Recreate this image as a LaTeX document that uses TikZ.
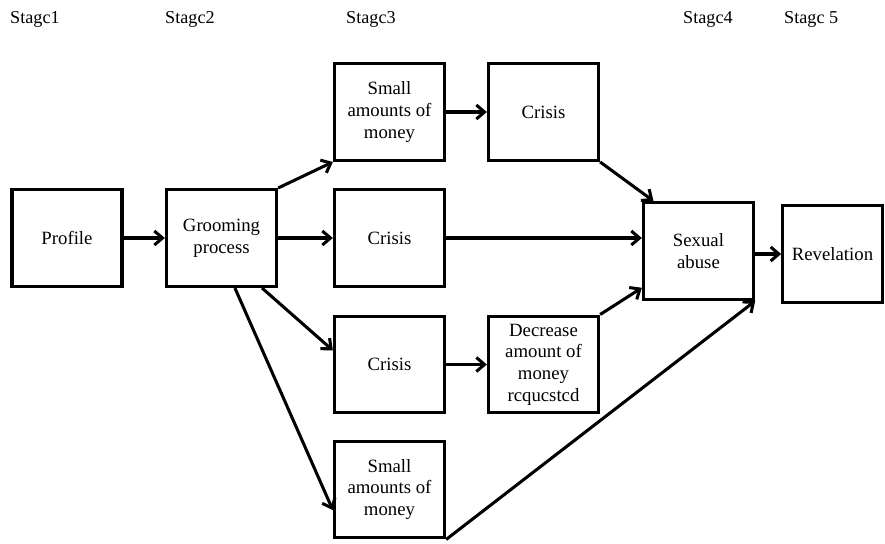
\documentclass[tikz,border=0pt]{standalone}
\usepackage{fontspec}
\setmainfont{Liberation Serif}
\usepackage{tikz}
\usetikzlibrary{arrows.meta, positioning, calc}

\begin{document}
\begin{tikzpicture}[x=0.03cm, y=-0.03cm,
    box/.style={draw, line width=2.8pt, minimum width=3.3cm, minimum height=2.9cm, align=center, inner sep=2pt, font=\fontsize{16}{18.5}\selectfont},
    stagelbl/.style={anchor=west, inner sep=0pt, font=\fontsize{15.5}{18}\selectfont},
    arr/.style={line width=2.6pt, -{Straight Barb[length=7pt, width=12pt, line width=2.6pt]}}]
  \useasboundingbox (0,0) rectangle (885,544);

  % Stage labels
  \node[stagelbl] (st1) at (10,19) {Stagc1};
  \node[stagelbl] (st2) at (165,19) {Stagc2};
  \node[stagelbl] (st3) at (346,19) {Stagc3};
  \node[stagelbl] (st4) at (683,19) {Stagc4};
  \node[stagelbl] (st5) at (784,19) {Stagc 5};

  % Boxes
  \node[box] (profile) at (67,238) {Profile};
  \node[box] (groom) at (221.5,238) {Grooming\\process};
  \node[box] (small1) at (389.5,112) {Small\\amounts of\\money};
  \node[box] (crisis1) at (543.5,112) {Crisis};
  \node[box] (crisis2) at (389.5,238) {Crisis};
  \node[box] (crisis3) at (389.5,364.5) {Crisis};
  \node[box] (decr) at (543.5,364.5) {Decrease\\amount of\\money\\rcqucstcd};
  \node[box] (small2) at (389.5,489.5) {Small\\amounts of\\money};
  \node[box] (abuse) at (698.5,251) {Sexual\\abuse};
  \node[box, minimum width=2.98cm] (revel) at (832.5,254) {Revelation};

  % Arrows
  \draw[arr] (profile) -- (groom);
  \draw[arr] (groom.north east) -- (small1.south west);
  \draw[arr] (groom) -- (crisis2);
  \draw[arr] (groom.-51) -- (crisis3.166);
  \draw[arr] (groom.-75) -- (small2.200);
  \draw[arr] (small1) -- (crisis1);
  \draw[arr] (crisis1.south east) -- (abuse.132);
  \draw[arr] (crisis2.east) -- (crisis2.east -| abuse.west);
  \draw[arr] (crisis3) -- (decr);
  \draw[arr] (decr.north east) -- (abuse.213);
  \draw[arr] (small2.south east) -- (abuse.south east);
  \draw[arr] (abuse.east |- revel) -- (revel);
\end{tikzpicture}
\end{document}
